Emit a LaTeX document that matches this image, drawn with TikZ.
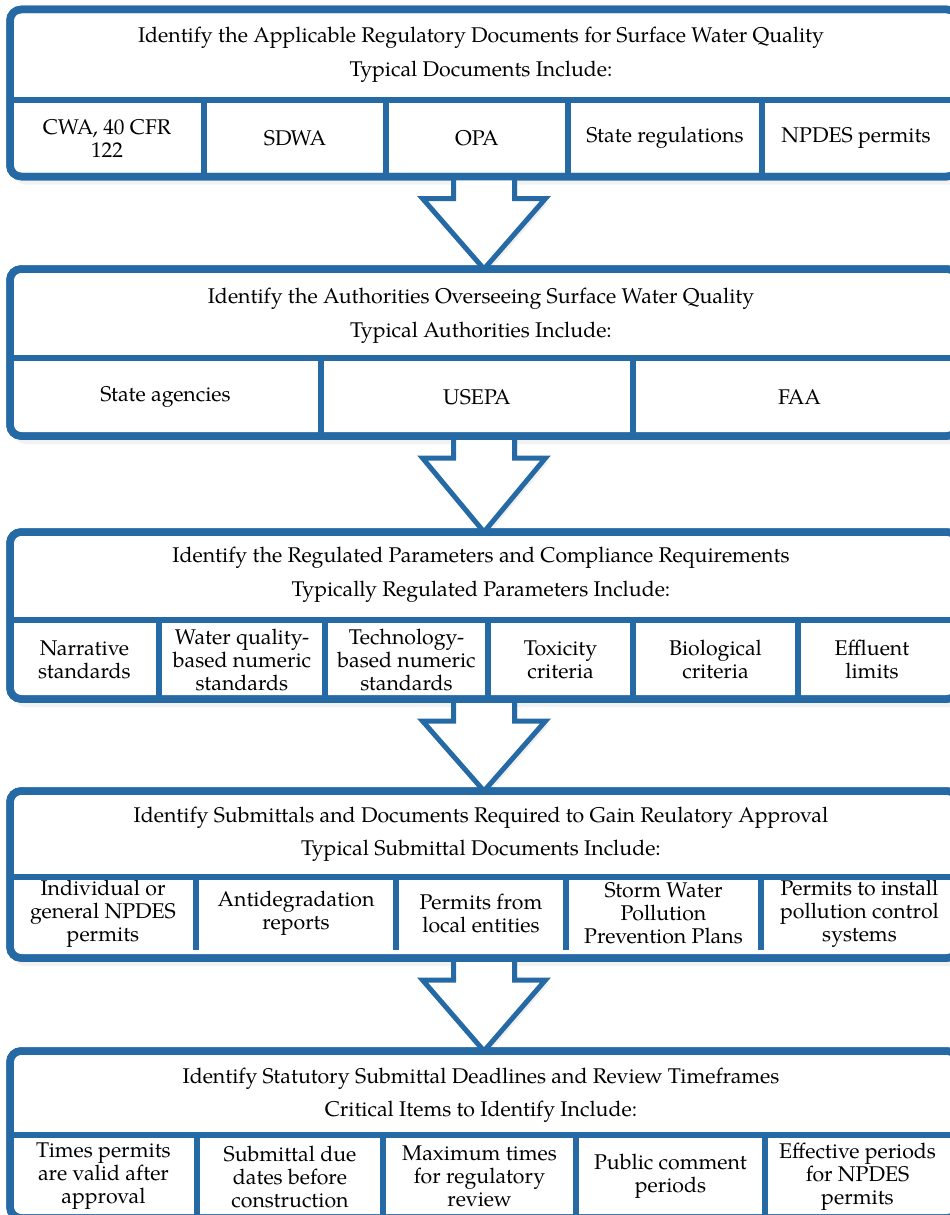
\documentclass[tikz,border=0pt]{standalone}
\usepackage{fontspec}
\setmainfont{texgyrepagella}[Extension=.otf, UprightFont=*-regular, BoldFont=*-bold, ItalicFont=*-italic, BoldItalicFont=*-bolditalic]
\usetikzlibrary{calc}
\definecolor{flowblue}{RGB}{38,106,165}

% one row of cells: #1 prefix, #2 top y, #3 bottom y, #4 list of left/right/text
\newcommand\cellrow[4]{%
  \foreach \l/\r/\t [count=\i] in {#4} {%
    \node[cell, minimum width={\r-\l}, minimum height={#3-#2}] (#1-\i) at ({(\l+\r)/2},{(#2+#3)/2}) {\t};
    \ifnum\i>1 \draw[divider] (#1-\i.north west) -- (#1-\i.south west);\fi
  }%
  \draw[divider] (#1.west |- #1-1.north) -- (#1.east |- #1-1.north);
}
% block arrow from the bottom of one stage to the top of the next
\newcommand\flowarrow[2]{%
  \draw[blockarrow] ($(#1.south)+(-30.5,0)$) -- ($(#1.south)+(-30.5,22)$)
    -- ($(#1.south)+(-61.5,22)$) -- (#2.north) -- ($(#1.south)+(61.5,22)$)
    -- ($(#1.south)+(30.5,22)$) -- ($(#1.south)+(30.5,0)$);
}

\begin{document}
\begin{tikzpicture}[x=1pt, y=-1pt,
  font=\fontsize{21.3}{23}\selectfont,
  stagebox/.style={draw=flowblue, line width=7.5pt, fill=white, rounded corners=11pt,
    inner sep=0pt, outer sep=0pt, minimum width=948pt, minimum height=167pt,
    preaction={draw=none, fill=black, opacity=0.05, transform canvas={xshift=2pt, yshift=-4pt}},
    preaction={draw=none, fill=black, opacity=0.05, transform canvas={xshift=4pt, yshift=-8pt}}},
  cell/.style={inner sep=0pt, outer sep=0pt, align=center, text=black},
  headtext/.style={inner sep=0pt, text=black},
  divider/.style={draw=flowblue, line width=6.5pt},
  blockarrow/.style={draw=flowblue, line width=5pt, fill=white, line join=miter,
    preaction={draw=none, fill=black, opacity=0.06, transform canvas={xshift=3pt, yshift=-4pt}}},
]
\useasboundingbox (0,0) rectangle (950,1215);
\clip (0,0) rectangle (950,1215);

% stage frames
\path (484, 93) node[stagebox] (s1) {};
\path (484, 352.5) node[stagebox] (s2) {};
\path (484, 615.5) node[stagebox] (s3) {};
\path (484, 874.5) node[stagebox] (s4) {};
\path (484, 1134.5) node[stagebox] (s5) {};

% arrows between stages
\flowarrow{s1}{s2}
\flowarrow{s2}{s3}
\flowarrow{s3}{s4}
\flowarrow{s4}{s5}

% redraw frame borders over the arrow ends
\foreach \s in {s1,s2,s3,s4,s5}
  \draw[draw=flowblue, line width=7.5pt, rounded corners=11pt] (\s.north west) rectangle (\s.south east);

% stage 1
\node[headtext] (h1a) at (481, 38) {Identify the Applicable Regulatory Documents for Surface Water Quality};
\node[headtext] (h1b) at (481, 72) {Typical Documents Include:};
\cellrow{s1}{100}{176.5}{10/204/{CWA, 40 CFR\\122}, 204/386/SDWA, 386/568/OPA, 568/762/State regulations, 762/950/NPDES permits}

% stage 2
\node[headtext] (h2a) at (481, 299) {Identify the Authorities Overseeing Surface Water Quality};
\node[headtext] (h2b) at (481, 333) {Typical Authorities Include:};
\cellrow{s2}{358}{436}{10/321/State agencies, 321/633/USEPA, 633/966/FAA}

% stage 3
\node[headtext] (h3a) at (481, 558) {Identify the Regulated Parameters and Compliance Requirements};
\node[headtext] (h3b) at (481, 592) {Typically Regulated Parameters Include:};
\cellrow{s3}{620}{699}{10/159/{Narrative\\standards}, 159/325/{Water quality-\\based numeric\\standards}, 325/488/{Technology-\\based numeric\\standards}, 488/633/{Toxicity\\criteria}, 633/798/{Biological\\criteria}, 798/946/{Effluent\\limits}}

% stage 4
\node[headtext] (h4a) at (481, 818) {Identify Submittals and Documents Required to Gain Reulatory Approval};
\node[headtext] (h4b) at (481, 851) {Typical Submittal Documents Include:};
\cellrow{s4}{877}{950}{10/196/{Individual or\\general NPDES\\permits}, 196/396/{Antidegradation\\reports}, 396/566/{Permits from\\local entities}, 566/761/{Storm Water\\Pollution\\Prevention Plans}, 761/958/{Permits to install\\pollution control\\systems}}

% stage 5
\node[headtext] (h5a) at (481, 1079) {Identify Statutory Submittal Deadlines and Review Timeframes};
\node[headtext] (h5b) at (481, 1112) {Critical Items to Identify Include:};
\cellrow{s5}{1135}{1218}{10/197/{Times permits\\are valid after\\approval}, 197/383/{Submittal due\\dates before\\construction}, 383/576/{Maximum times\\for regulatory\\review}, 576/765/{Public comment\\periods}, 765/950/{Effective periods\\for NPDES\\permits}}
\end{tikzpicture}
\end{document}
